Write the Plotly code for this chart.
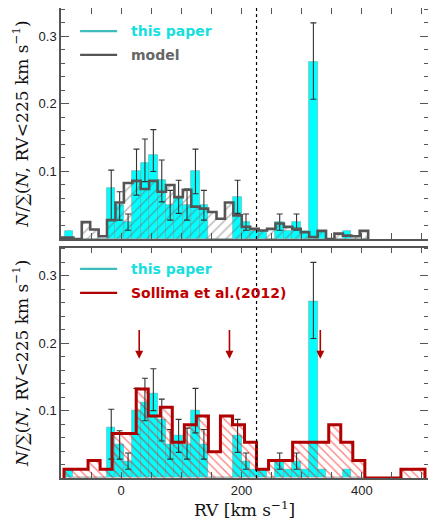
import numpy as np
import plotly.graph_objects as go

# --- data -----------------------------------------------------------------
# "this paper" histogram (bin start / width in km/s, fractions)
paper_bin_lo = -93.5
paper_bin_w = 14.0
paper_frac = [0.0125, 0, 0, 0, 0, 0.075, 0.05, 0.025, 0.1, 0.1125, 0.125, 0.0875,
              0.05, 0.0625, 0.05, 0.1, 0.05, 0, 0, 0, 0.0625, 0.025, 0.0125, 0.0125,
              0, 0.025, 0.0125, 0.025, 0.0125, 0.2625, 0.0125, 0, 0, 0.0125, 0, 0]

# error bars: bin index, upper end, lower end
err_bin = [5, 6, 7, 8, 9, 10, 11, 12, 13, 14, 15, 16, 20, 21, 25, 27, 29]
err_top = [0.102, 0.070, 0.037, 0.133, 0.148, 0.162, 0.117, 0.072, 0.087, 0.074,
           0.133, 0.072, 0.087, 0.037, 0.037, 0.037, 0.320]
err_bot = [0.028, 0.028, 0.013, 0.065, 0.085, 0.100, 0.055, 0.028, 0.038, 0.028,
           0.067, 0.028, 0.038, 0.013, 0.013, 0.013, 0.207]

# model histogram
model_bin_lo = -107.5
model_bin_w = 14.0
model_frac = [0.002, 0.002, 0.0, 0.025, 0.014, 0.004, 0.028, 0.054, 0.083, 0.086,
              0.074, 0.086, 0.070, 0.080, 0.062, 0.073, 0.048, 0.045, 0.040, 0.030,
              0.054, 0.035, 0.018, 0.015, 0.0125, 0.015, 0.023, 0.018, 0.015, 0.010,
              0.003, 0.012, 0.0, 0.008, 0.005, 0.004, 0.012]

# Sollima et al. (2012) histogram
soll_bin_lo = -95.0
soll_bin_w = 20.0
soll_frac = [0.013, 0.013, 0.026, 0.013, 0.066, 0.066, 0.132, 0.092, 0.105, 0.053,
             0.079, 0.092, 0.039, 0.092, 0.079, 0.053, 0.013, 0.026, 0.026, 0.053,
             0.053, 0.053, 0.079, 0.053, 0.026, 0, 0, 0, 0.013, 0.013]

arrow_rv = [30, 180, 331]
arrow_top, arrow_tip = 0.222, 0.177
rv_cut = 225

CYAN = "#00ffff"
GRAY = "#555555"
RED = "#b00000"


def bins(lo, w, vals):
    edges = lo + w * np.arange(len(vals) + 1)
    centers = 0.5 * (edges[:-1] + edges[1:])
    return edges, centers


def step_xy(edges, vals):
    # outline of a histogram, dropping to zero at both ends
    x = [edges[0]] + list(edges)
    y = [0] + list(vals) + [0]
    return x, y


p_edges, p_cent = bins(paper_bin_lo, paper_bin_w, paper_frac)
m_edges, m_cent = bins(model_bin_lo, model_bin_w, model_frac)
s_edges, s_cent = bins(soll_bin_lo, soll_bin_w, soll_frac)

e_x = [p_cent[i] for i in err_bin]
e_y = [paper_frac[i] for i in err_bin]
e_up = [t - paper_frac[i] for t, i in zip(err_top, err_bin)]
e_dn = [paper_frac[i] - b for b, i in zip(err_bot, err_bin)]

fig = go.Figure()

for ya, xa in (("y2", "x2"), ("y", "x")):
    fig.add_trace(go.Bar(x=p_cent, y=paper_frac, width=paper_bin_w, xaxis=xa, yaxis=ya,
                         marker=dict(color=CYAN, line=dict(color="rgba(120,150,150,0.6)", width=0.8)),
                         showlegend=False))

# top panel: model
fig.add_trace(go.Bar(x=m_cent, y=model_frac, width=model_bin_w, xaxis="x2", yaxis="y2",
                     marker=dict(color="rgba(0,0,0,0)", line=dict(width=0),
                                 pattern=dict(shape="/", fgcolor="#707070", size=7,
                                              solidity=0.22, fillmode="overlay")),
                     showlegend=False))
fig.add_trace(go.Scatter(x=e_x, y=e_y, mode="markers", marker=dict(size=0.1, color="#333"),
                         xaxis="x2", yaxis="y2", showlegend=False,
                         error_y=dict(type="data", array=e_up, arrayminus=e_dn, symmetric=False,
                                      color="#333", thickness=1.1, width=3)))
mx, my = step_xy(m_edges, model_frac)
fig.add_trace(go.Scatter(x=mx, y=my, mode="lines", line=dict(shape="hv", color=GRAY, width=2.6),
                         xaxis="x2", yaxis="y2", showlegend=False))

# bottom panel: Sollima
fig.add_trace(go.Bar(x=s_cent, y=soll_frac, width=soll_bin_w, xaxis="x", yaxis="y",
                     marker=dict(color="rgba(0,0,0,0)", line=dict(width=0),
                                 pattern=dict(shape="\\", fgcolor="#ff0000", size=6,
                                              solidity=0.22, fillmode="overlay")),
                     showlegend=False))
fig.add_trace(go.Scatter(x=e_x, y=e_y, mode="markers", marker=dict(size=0.1, color="#333"),
                         xaxis="x", yaxis="y", showlegend=False,
                         error_y=dict(type="data", array=e_up, arrayminus=e_dn, symmetric=False,
                                      color="#333", thickness=1.1, width=3)))
sx, sy = step_xy(s_edges, soll_frac)
fig.add_trace(go.Scatter(x=sx, y=sy, mode="lines", line=dict(shape="hv", color=RED, width=3),
                         xaxis="x", yaxis="y", showlegend=False))

for rv in arrow_rv:
    fig.add_annotation(x=rv, y=arrow_tip, ax=rv, ay=arrow_top, xref="x", yref="y",
                       axref="x", ayref="y", text="", showarrow=True, arrowhead=2,
                       arrowsize=1.0, arrowwidth=1.6, arrowcolor=RED)

# dotted RV cut in both panels
for xr, yr in (("x2", "y2 domain"), ("x", "y domain")):
    fig.add_shape(type="line", x0=rv_cut, x1=rv_cut, y0=0, y1=1, xref=xr, yref=yr,
                  line=dict(color="black", width=1.2, dash="dot"))

# hand-made legends
legend_rows = [
    ("y2 domain", 0.900, "#3cbcbc", "this paper", "#18dede"),
    ("y2 domain", 0.797, GRAY, "model", "#666666"),
    ("y domain", 0.907, "#3cbcbc", "this paper", "#18dede"),
    ("y domain", 0.803, RED, "Sollima et al.(2012)", "#c00000"),
]
for yr, yy, lc, txt, tc in legend_rows:
    xr = "x2 domain" if yr.startswith("y2") else "x domain"
    fig.add_shape(type="line", x0=0.052, x1=0.153, y0=yy, y1=yy, xref=xr, yref=yr,
                  line=dict(color=lc, width=2.2))
    fig.add_annotation(x=0.186, y=yy, xref=xr, yref=yr, text="<b>" + txt + "</b>",
                       showarrow=False, xanchor="left", yanchor="middle",
                       font=dict(family="DejaVu Sans", size=14, color=tc))

ytitle = "<i>N</i>/∑(<i>N</i>, RV&lt;225 km s<sup>−1</sup>)"
axis_common = dict(showline=True, mirror="allticks", linecolor=GRAY, linewidth=1.5,
                   ticks="inside", tickcolor=GRAY, tickwidth=1.2, showgrid=False,
                   zeroline=False, layer="above traces", automargin=False)
xcommon = dict(axis_common, range=[-100, 510], tick0=0, dtick=200, ticklen=6,
               minor=dict(dtick=50, ticklen=6, ticks="inside", tickcolor=GRAY, tickwidth=1.2))
ycommon = dict(axis_common, range=[0, 0.342], tickvals=[0.1, 0.2, 0.3], ticklen=8,
               tickfont=dict(family="Liberation Sans", size=13, color="#222"),
               minor=dict(dtick=0.02, ticklen=4, ticks="inside", tickcolor=GRAY, tickwidth=1.2),
               title=dict(text=ytitle, standoff=6,
                          font=dict(family="DejaVu Serif", size=17, color="#111")))

# the page body adds an 8px offset, so the figure is sized to fit the window
fig.update_layout(
    width=428, height=519,
    margin=dict(l=53, r=8, t=0, b=49),
    plot_bgcolor="white", paper_bgcolor="white",
    barmode="overlay", bargap=0,
    xaxis=dict(xcommon, domain=[0, 1], anchor="y",
               tickfont=dict(family="Liberation Sans", size=13, color="#222"),
               title=dict(text="RV [km s<sup>−1</sup>]", standoff=4,
                          font=dict(family="DejaVu Serif", size=17, color="#111"))),
    yaxis=dict(ycommon, domain=[0, 0.4904], anchor="x"),
    xaxis2=dict(xcommon, domain=[0, 1], anchor="y2", showticklabels=False, matches="x"),
    yaxis2=dict(ycommon, domain=[0.5085, 1], anchor="x2"),
)

fig.write_html("out.html")
